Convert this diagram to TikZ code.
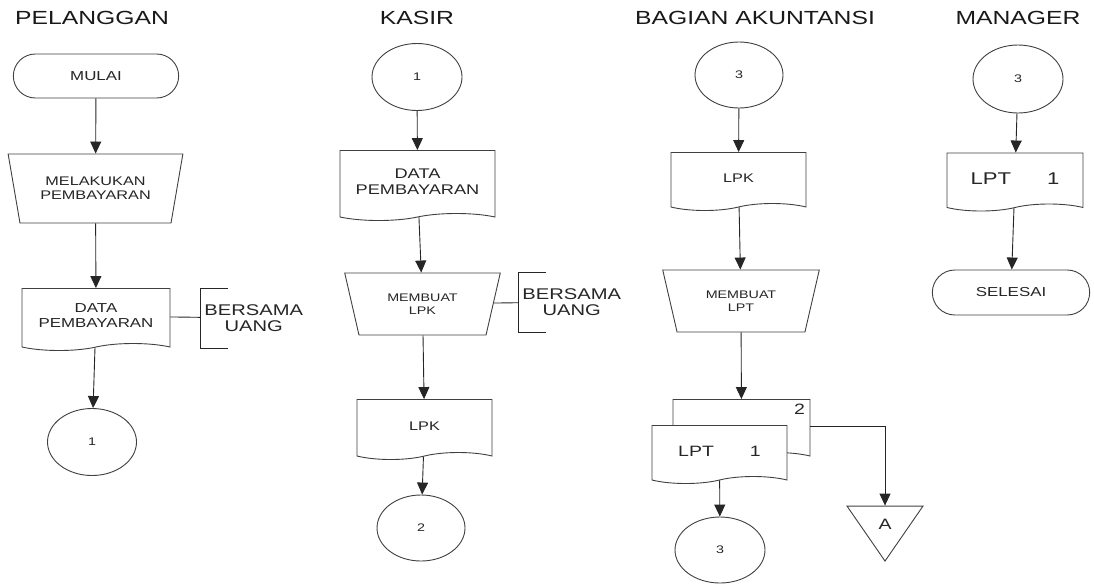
\documentclass[tikz,border=0pt]{standalone}
\usepackage{fontspec}
\setmainfont{Liberation Sans}[FakeStretch=1.3]
\usetikzlibrary{shapes.geometric, shapes.misc, shapes.symbols, arrows.meta}
\tikzstyle{lane} = [font=\fontsize{19}{22}\selectfont, text=black!90]
\tikzstyle{term} = [rounded rectangle, draw=black!75, fill=white, minimum width=172pt, minimum height=44pt, font=\fontsize{13}{15}\selectfont, text=black!85]
\tikzstyle{manual} = [trapezium, trapezium stretches=true, shape border rotate=180, trapezium left angle=69, trapezium right angle=69, draw=black!75, fill=white, align=center, inner sep=0pt, text=black!85]
\tikzstyle{doc} = [tape, tape bend top=none, tape bend bottom=in and out, tape bend height=7pt, draw=black!75, fill=white, align=center, inner sep=0pt, text=black!85]
\tikzstyle{conn} = [ellipse, draw=black!75, fill=white, minimum width=89pt, minimum height=67pt, font=\fontsize{11}{13}\selectfont, text=black!85]
\tikzstyle{offpage} = [isosceles triangle, isosceles triangle stretches, shape border rotate=-90, draw=black!75, fill=white, minimum width=76pt, minimum height=55pt, inner sep=0pt, font=\fontsize{15}{17}\selectfont, text=black!85]
\tikzstyle{note} = [anchor=west, align=center, inner xsep=4pt, minimum height=59pt, font=\fontsize{15.5}{16}\selectfont, text=black!85]

\begin{document}
\begin{tikzpicture}[x=1pt, y=-1pt, line width=0.9pt]
    \useasboundingbox (0,0) rectangle (1094,584);

    \node at (92,18) [lane] (pelanggan) {PELANGGAN};
    \node at (417,18) [lane] (kasir) {KASIR};
    \node at (755,18) [lane] (akuntansi) {BAGIAN AKUNTANSI};
    \node at (1018,18) [lane] (manager) {MANAGER};

    % pelanggan
    \node at (96,76) [term] (mulai) {MULAI};
    \node at (95.5,188.5) [manual, minimum width=175pt, minimum height=69pt, font=\fontsize{12.5}{14}\selectfont] (bayar) {MELAKUKAN\\PEMBAYARAN};
    \node at (96,316) [doc, minimum width=148pt, minimum height=62pt, font=\fontsize{13}{15}\selectfont] (data1) {DATA\\PEMBAYARAN};
    \node at (200,318) [note] (uang1) {BERSAMA\\UANG};
    \node at (92,442) [conn] (satu1) {1};

    % kasir
    \node at (417,77) [conn, minimum width=90pt] (satu2) {1};
    \node at (417.5,182) [doc, minimum width=155pt, minimum height=70pt, font=\fontsize{14}{16}\selectfont] (data2) {DATA\\PEMBAYARAN};
    \node at (422.5,304) [manual, minimum width=157pt, minimum height=62pt, font=\fontsize{11}{13}\selectfont] (lpk) {MEMBUAT\\LPK};
    \node at (518,302) [note] (uang2) {BERSAMA\\UANG};
    \node at (424.5,426) [doc, minimum width=135pt, minimum height=60pt, font=\fontsize{12.5}{14}\selectfont] (lpk1) {LPK};
    \node at (421,528) [conn, minimum width=88pt, minimum height=66pt] (dua) {2};

    % bagian akuntansi
    \node at (739,75) [conn, minimum width=88pt, minimum height=66pt] (tiga1) {3};
    \node at (738.5,178) [doc, minimum width=135pt, minimum height=58pt, font=\fontsize{12.5}{14}\selectfont] (lpk2) {LPK};
    \node at (741,301) [manual, minimum width=158pt, minimum height=62pt, font=\fontsize{11}{13}\selectfont] (lpt) {MEMBUAT\\LPT};
    \node at (741.5,426) [doc, minimum width=137pt, minimum height=60pt, label={[anchor=north east, inner sep=5pt, font=\fontsize{15}{17}\selectfont, text=black!85]north east:2}] (lptb) {};
    \node at (719.5,451) [doc, minimum width=135pt, minimum height=58pt, font=\fontsize{15}{17}\selectfont] (lpta) {LPT\hspace{36pt}1};
    \node at (885,524) [offpage] (arsip) {A};
    \node at (720,550) [conn, minimum width=90pt, minimum height=66pt] (tiga2) {3};

    % manager
    \node at (1018,79) [conn, minimum width=90pt, minimum height=68pt] (tiga3) {3};
    \node at (1015,178.5) [doc, minimum width=136pt, minimum height=58pt, font=\fontsize{17}{19}\selectfont] (lpt3) {LPT\hspace{36pt}1};
    \node at (1011,292.5) [term, minimum width=164pt, minimum height=45pt] (selesai) {SELESAI};

    \begin{scope}[y=1pt, >={Triangle[length=12pt,width=11pt]}, draw=black!85]
    \draw[->] (mulai) -- (bayar);
    \draw[->] (bayar) -- (data1);
    \draw[->] (data1) -- (satu1);
    \draw[-] (data1) -- (uang1);
    \draw[-] ([xshift=28pt]uang1.north west) -| (uang1.south west) -- ++(28,0);

    \draw[->] (satu2) -- (data2);
    \draw[->] (data2) -- (lpk);
    \draw[->] (lpk) -- (lpk1);
    \draw[->] (lpk1) -- (dua);
    \draw[-] (lpk) -- (uang2);
    \draw[-] ([xshift=28pt]uang2.north west) -| (uang2.south west) -- ++(28,0);

    \draw[->] (tiga1) -- (lpk2);
    \draw[->] (lpk2) -- (lpt);
    \draw[->] (lpt) -- (lptb);
    \draw[->] (lpta) -- (tiga2);
    \draw[->] (lptb.east) -| (arsip);

    \draw[->] (tiga3) -- (lpt3);
    \draw[->] (lpt3) -- (selesai);
    \end{scope}
\end{tikzpicture}
\end{document}
